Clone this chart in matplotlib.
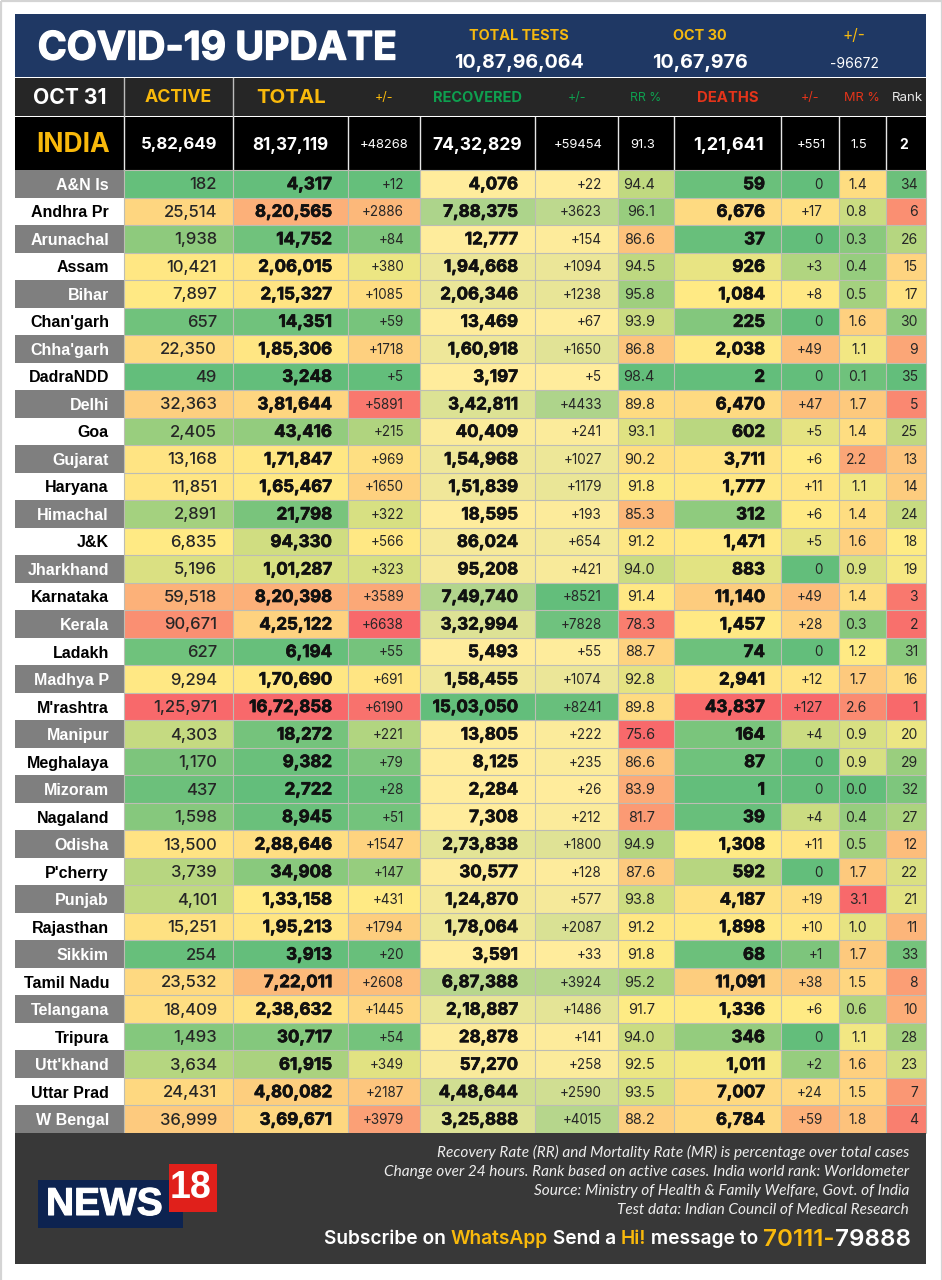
import matplotlib
matplotlib.use("Agg")
import numpy as np
import matplotlib.pyplot as plt
import matplotlib.patheffects as pe
from matplotlib.colors import LinearSegmentedColormap, TwoSlopeNorm, Normalize
from matplotlib.patches import Rectangle

states = ["A&N Is","Andhra Pr","Arunachal","Assam","Bihar","Chan'garh","Chha'garh","DadraNDD","Delhi","Goa","Gujarat","Haryana","Himachal","J&K","Jharkhand","Karnataka","Kerala","Ladakh","Madhya P","M'rashtra","Manipur","Meghalaya","Mizoram","Nagaland","Odisha","P'cherry","Punjab","Rajasthan","Sikkim","Tamil Nadu","Telangana","Tripura","Utt'khand","Uttar Prad","W Bengal"]
active = [182,25514,1938,10421,7897,657,22350,49,32363,2405,13168,11851,2891,6835,5196,59518,90671,627,9294,125971,4303,1170,437,1598,13500,3739,4101,15251,254,23532,18409,1493,3634,24431,36999]
total = [4317,820565,14752,206015,215327,14351,185306,3248,381644,43416,171847,165467,21798,94330,101287,820398,425122,6194,170690,1672858,18272,9382,2722,8945,288646,34908,133158,195213,3913,722011,238632,30717,61915,480082,369671]
total_delta = [12,2886,84,380,1085,59,1718,5,5891,215,969,1650,322,566,323,3589,6638,55,691,6190,221,79,28,51,1547,147,431,1794,20,2608,1445,54,349,2187,3979]
recovered = [4076,788375,12777,194668,206346,13469,160918,3197,342811,40409,154968,151839,18595,86024,95208,749740,332994,5493,158455,1503050,13805,8125,2284,7308,273838,30577,124870,178064,3591,687388,218887,28878,57270,448644,325888]
recovered_delta = [22,3623,154,1094,1238,67,1650,5,4433,241,1027,1179,193,654,421,8521,7828,55,1074,8241,222,235,26,212,1800,128,577,2087,33,3924,1486,141,258,2590,4015]
rr = [94.4,96.1,86.6,94.5,95.8,93.9,86.8,98.4,89.8,93.1,90.2,91.8,85.3,91.2,94.0,91.4,78.3,88.7,92.8,89.8,75.6,86.6,83.9,81.7,94.9,87.6,93.8,91.2,91.8,95.2,91.7,94.0,92.5,93.5,88.2]
deaths = [59,6676,37,926,1084,225,2038,2,6470,602,3711,1777,312,1471,883,11140,1457,74,2941,43837,164,87,1,39,1308,592,4187,1898,68,11091,1336,346,1011,7007,6784]
deaths_delta = [0,17,0,3,8,0,49,0,47,5,6,11,6,5,0,49,28,0,12,127,4,0,0,4,11,0,19,10,1,38,6,0,2,24,59]
mr = [1.4,0.8,0.3,0.4,0.5,1.6,1.1,0.1,1.7,1.4,2.2,1.1,1.4,1.6,0.9,1.4,0.3,1.2,1.7,2.6,0.9,0.9,0.0,0.4,0.5,1.7,3.1,1.0,1.7,1.5,0.6,1.1,1.6,1.5,1.8]
rank = [34,6,26,15,17,30,9,35,5,25,13,14,24,18,19,3,2,31,16,1,20,29,32,27,12,22,21,11,33,8,10,28,23,7,4]
india = ["5,82,649","81,37,119","+48268","74,32,829","+59454","91.3","1,21,641","+551","1.5","2"]
headers = ["ACTIVE","TOTAL","+/-","RECOVERED","+/-","RR %","DEATHS","+/-","MR %","Rank"]
tests_labels = ["TOTAL TESTS","OCT 30","+/-"]
tests_values = ["10,87,96,064","10,67,976","-96672"]
notes = ["Recovery Rate (RR) and Mortality Rate (MR) is percentage over total cases",
         "Change over 24 hours. Rank based on active cases. India world rank: Worldometer",
         "Source: Ministry of Health & Family Welfare, Govt. of India",
         "Test data: Indian Council of Medical Research"]

def indian(n):
    s = str(int(n))
    if len(s) <= 3:
        return s
    head, tail = s[:-3], s[-3:]
    parts = []
    while len(head) > 2:
        parts.insert(0, head[-2:]); head = head[:-2]
    if head:
        parts.insert(0, head)
    return ",".join(parts + [tail])
plus = lambda n: "0" if n == 0 else f"+{n}"
one = lambda v: f"{v:.1f}"
plain = lambda v: str(v)

GREEN, YEL, RED, PALE = "#63BE7B", "#FFEB84", "#F8696B", "#FFEC9C"
up = LinearSegmentedColormap.from_list("up", [GREEN, YEL, RED])
down = up.reversed()
two = LinearSegmentedColormap.from_list("two", [PALE, GREEN])

MONT = "Inter"
def heavy(color, w=0.55):
    return [pe.withStroke(linewidth=w, foreground=color)]

cols = [
    (active, indian, up, "median", 217, 12, "medium"),
    (total, indian, up, "median", 332, 12.2, "bold"),
    (total_delta, plus, up, "median", 404, 9.7, "normal"),
    (recovered, indian, two, "linear", 518, 12.2, "bold"),
    (recovered_delta, plus, two, "linear", 602, 9.7, "normal"),
    (rr, one, down, "median", 655, 10.4, "normal"),
    (deaths, indian, up, "median", 765, 12.2, "bold"),
    (deaths_delta, plus, up, "median", 823, 9.7, "normal"),
    (mr, one, up, "median", 867, 10, "normal"),
    (rank, plain, down, "median", 918, 10, "normal"),
]
col_edges = [124, 233, 348, 420, 535, 618, 674, 781, 839, 886, 926]
LEFT, RIGHT = 15, 926
ROW_TOP, ROW_BOT = 170, 1133
row_edges = np.linspace(ROW_TOP, ROW_BOT, len(states) + 1)
row_mid = (row_edges[:-1] + row_edges[1:]) / 2

fig = plt.figure(figsize=(9.42, 12.8), dpi=100, facecolor="white")
ax = fig.add_axes([0, 0, 1, 1])
ax.set_xlim(0, 942); ax.set_ylim(1280, 0); ax.axis("off")

# page frame
ax.add_patch(Rectangle((0.5, 0.5), 941, 1400, fc="none", ec="#d4d4d4", lw=1.6, zorder=1))

# banner
ax.add_patch(Rectangle((LEFT, 14), RIGHT - LEFT, 63, fc="#1F3864", ec="none"))
ax.text(217, 49, "COVID-19 UPDATE", color="white", family=MONT, weight="bold", size=28.2, ha="center", va="center",
        path_effects=heavy("white", 1.0))
for x, lab, val, w in zip([519, 700, 854], tests_labels, tests_values, ["bold", "bold", "normal"]):
    ax.text(x, 35.5, lab, color="#F5B90F", family=MONT, weight="bold" if lab != "+/-" else "normal",
            size=10.4 if lab != "+/-" else 11, ha="center", va="center")
    ax.text(x, 63.5, val, color="white", family=MONT, weight=w, size=14.1 if w == "bold" else 10, ha="center", va="center")

# header row
ax.add_patch(Rectangle((LEFT, 78), RIGHT - LEFT, 38, fc="#262626", ec="none"))
for x in col_edges[:2]:
    ax.plot([x, x], [78, 116], color="#bdbdbd", lw=1)
ax.text(69.5, 98, "OCT 31", color="white", family=MONT, weight="bold", size=15.2, ha="center", va="center")
hx = [178, 291, 384, 477, 577, 646, 728, 810, 862, 907]
hc = ["#F9B90B", "#F9B90B", "#F9B90B", "#0E9F4F", "#0E9F4F", "#0E9F4F", "#E5341A", "#E5341A", "#E5341A", "#E8E8E8"]
hs = [12.8, 14.7, 9, 10.5, 9, 8.8, 10.7, 9, 9.2, 9.6]
hw = ["bold", "bold", "normal", "bold", "normal", "normal", "bold", "normal", "normal", "normal"]
for x, t, c, s, w in zip(hx, headers, hc, hs, hw):
    ax.text(x, 98, t, color=c, family=MONT, weight=w, size=s, ha="center", va="center")

# India row
ax.add_patch(Rectangle((LEFT, 117), RIGHT - LEFT, 53, fc="black", ec="none"))
for x in col_edges[:-1]:
    ax.plot([x, x], [117, 170], color="#e6e6e6", lw=1)
ax.text(73, 145, "INDIA", color="#F9B90B", family=MONT, weight="bold", size=19, ha="center", va="center")
ix = [179, 290, 384, 477, 578, 643, 728, 811, 859, 904]
iw = ["bold", "bold", "normal", "bold", "normal", "normal", "bold", "normal", "normal", "bold"]
ist = [12.1, 12.3, 9.3, 12.6, 9.3, 9.3, 13, 9.3, 9.3, 10]
for x, t, s, w in zip(ix, india, ist, iw):
    ax.text(x, 145, t, color="white", family=MONT, weight=w, size=s, ha="center", va="center")

# state names
for i, (name, y) in enumerate(zip(states, row_mid)):
    grey = i % 2 == 0
    ax.add_patch(Rectangle((LEFT, row_edges[i]), col_edges[0] - LEFT, row_edges[i + 1] - row_edges[i],
                           fc="#7F7F7F" if grey else "white", ec="none"))
    ax.text(109, y + 1.5, name, color="white" if grey else "black", family="Liberation Sans", weight="bold",
            size=11.5, ha="right", va="center")

# heat columns
for j, (vals, fmt, cmap, mode, xr, size, weight) in enumerate(cols):
    arr = np.asarray(vals, float)
    if mode == "median":
        norm = TwoSlopeNorm(vmin=arr.min(), vcenter=np.median(arr), vmax=arr.max())
    else:
        norm = Normalize(arr.min(), arr.max())
    ax.pcolormesh([col_edges[j], col_edges[j + 1]], row_edges, arr[:, None], cmap=cmap, norm=norm, zorder=2)
    for v, y in zip(vals, row_mid):
        bold = weight == "bold"
        ax.text(xr, y + 1, fmt(v), color="#111111" if bold else "#262626", family=MONT, weight=weight,
                size=size, ha="right", va="center", zorder=4,
                path_effects=heavy("#111111", 0.5) if bold else None)
# cell grid
ax.hlines(row_edges[:], col_edges[0], RIGHT, color="#bdbdb4", lw=0.8, zorder=3)
ax.vlines(col_edges, ROW_TOP, ROW_BOT, color="#bdbdb4", lw=0.8, zorder=3)

# footer
ax.add_patch(Rectangle((LEFT, ROW_BOT), RIGHT - LEFT, 131, fc="#383838", ec="none", zorder=5))
for t, y in zip(notes, [1152, 1172, 1191, 1210]):
    ax.text(909, y, t, color="#EDEDED", family="Lato", style="italic", size=11.1, ha="right", va="center", zorder=6)

# logo
ax.add_patch(Rectangle((38, 1180), 145, 48, fc="#0D2350", ec="none", zorder=6))
ax.add_patch(Rectangle((169, 1164), 48, 48, fc="#E0201B", ec="none", zorder=7))
ax.text(46, 1205, "NEWS", color="white", family="Liberation Sans", weight="bold", size=28, ha="left", va="center", zorder=8,
        path_effects=heavy("white", 0.8))
ax.text(191, 1188, "18", color="white", family="Liberation Sans", weight="bold", size=27,
        ha="center", va="center", zorder=8)

# subscribe line, laid out right to left
parts = [("Subscribe on ", "white", 13.8), ("WhatsApp", "#F9B90B", 13.8), (" Send a ", "white", 13.8), ("Hi!", "#F9B90B", 13.8),
         (" message to ", "white", 13.8), ("70111-", "#F9B90B", 17.4), ("79888", "white", 17.4)]
fig.canvas.draw()
r = fig.canvas.get_renderer()
x = 911
for t, c, s in reversed(parts):
    tx = ax.text(x, 1239.5, t.replace(" ", "\u00a0"), color=c, family=MONT, weight="semibold", size=s, ha="right", va="center", zorder=6)
    bb = tx.get_window_extent(r)
    x -= bb.width

fig.savefig("out.png", dpi=100, facecolor="white")
